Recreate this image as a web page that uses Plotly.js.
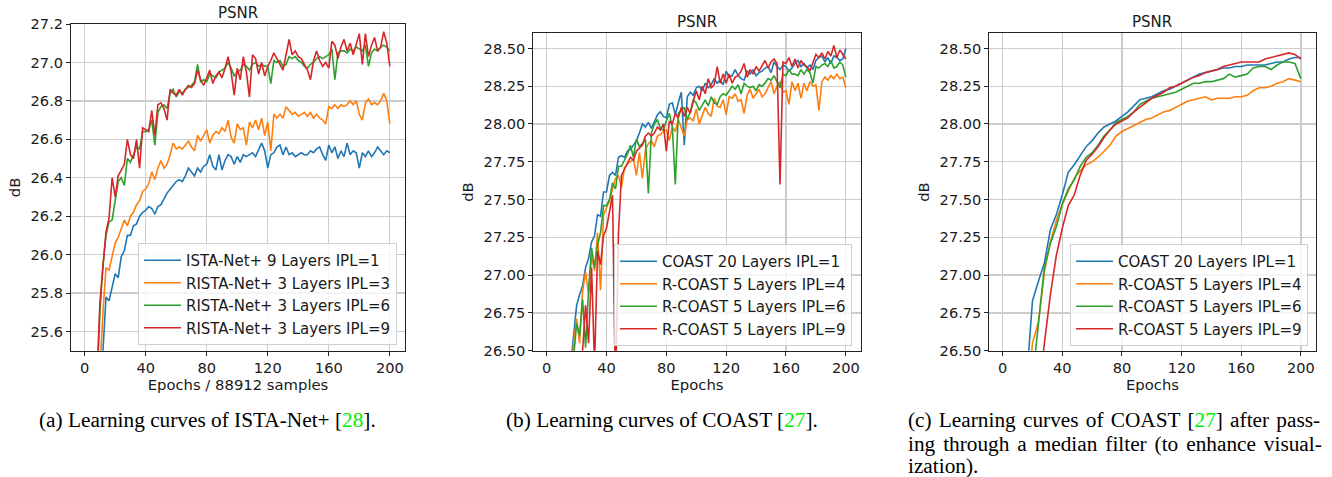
<!DOCTYPE html>
<html><head><meta charset="utf-8">
<script src="https://cdn.plot.ly/plotly-3.0.1.min.js"></script>
<style>html,body{margin:0;padding:0;background:#fff}#chart{width:1332px;height:477px}</style>
</head><body><div id="chart"></div>
<script>
// ---------- data ----------
const epochsAB = [2,4,6,8,10,12,14,16,18,20,22,24,26,28,30,32,34,36,38,40,42,44,46,48,50,52,54,56,58,60,62,64,66,68,70,72,74,76,78,80,82,84,86,88,90,92,94,96,98,100,102,104,106,108,110,112,114,116,118,120,122,124,126,128,130,132,134,136,138,140,142,144,146,148,150,152,154,156,158,160,162,164,166,168,170,172,174,176,178,180,182,184,186,188,190,192,194,196,198,200];
const epochsC = [4,8,12,16,20,24,28,32,36,40,44,48,52,56,60,64,68,72,76,80,84,88,92,96,100,104,108,112,116,120,124,128,132,136,140,144,148,152,156,160,164,168,172,176,180,184,188,192,196,200];

// (a) ISTA-Net+
const istaL9 = [23.0,23.6,24.2,24.8,25.2,25.50,25.78,25.76,25.84,25.90,25.88,25.99,26.02,26.10,26.10,26.15,26.16,26.20,26.22,26.23,26.25,26.24,26.21,26.25,26.26,26.29,26.32,26.34,26.36,26.38,26.39,26.38,26.41,26.45,26.43,26.41,26.45,26.43,26.46,26.47,26.52,26.46,26.44,26.52,26.44,26.49,26.52,26.51,26.47,26.51,26.48,26.52,26.51,26.52,26.53,26.51,26.55,26.58,26.54,26.45,26.52,26.53,26.56,26.57,26.52,26.56,26.52,26.53,26.51,26.52,26.53,26.52,26.52,26.54,26.53,26.55,26.56,26.52,26.49,26.57,26.53,26.56,26.50,26.54,26.51,26.58,26.52,26.54,26.53,26.45,26.53,26.51,26.54,26.51,26.53,26.56,26.54,26.52,26.54,26.53];
const ristaIPL3 = [23.2,23.8,24.4,24.9,25.4,25.70,25.93,25.92,26.00,26.06,26.09,26.14,26.18,26.15,26.20,26.22,26.26,26.28,26.33,26.34,26.37,26.43,26.39,26.45,26.49,26.45,26.47,26.52,26.58,26.55,26.56,26.55,26.57,26.59,26.56,26.54,26.62,26.59,26.62,26.65,26.58,26.62,26.64,26.63,26.66,26.64,26.70,26.61,26.58,26.68,26.65,26.66,26.57,26.69,26.66,26.70,26.65,26.71,26.62,26.69,26.54,26.73,26.71,26.73,26.71,26.77,26.75,26.73,26.74,26.72,26.73,26.74,26.72,26.74,26.71,26.73,26.71,26.70,26.68,26.77,26.76,26.78,26.76,26.78,26.77,26.78,26.80,26.78,26.80,26.73,26.70,26.79,26.81,26.78,26.79,26.78,26.80,26.84,26.80,26.68];
const ristaIPL6 = [23.4,24.1,24.6,25.3,25.7,25.95,26.10,26.17,26.18,26.28,26.38,26.40,26.36,26.50,26.48,26.52,26.56,26.55,26.64,26.64,26.65,26.70,26.57,26.74,26.77,26.78,26.76,26.84,26.86,26.82,26.85,26.84,26.86,26.87,26.88,26.90,26.99,26.90,26.91,26.90,26.94,26.93,26.92,26.95,26.96,26.97,27.00,26.97,26.93,26.95,26.96,26.99,26.98,26.96,26.99,27.00,26.98,26.99,26.98,26.98,26.89,27.01,27.00,27.01,26.98,26.99,27.03,27.02,27.03,27.01,27.00,26.98,26.97,26.99,27.00,27.02,27.03,27.02,27.03,27.04,27.07,26.91,27.05,27.06,27.06,27.05,27.07,27.06,27.08,27.07,27.06,27.09,26.98,27.05,27.07,27.06,27.08,27.09,27.08,27.06];
const ristaIPL9 = [23.5,24.2,24.7,25.35,25.75,25.95,26.12,26.19,26.40,26.30,26.41,26.44,26.47,26.60,26.52,26.50,26.60,26.45,26.66,26.65,26.64,26.75,26.62,26.78,26.79,26.76,26.70,26.86,26.84,26.83,26.86,26.83,26.86,26.88,26.87,26.89,26.96,26.91,26.88,26.92,26.96,26.89,26.93,26.95,26.92,26.97,27.03,26.95,26.83,26.97,26.91,27.03,26.95,26.82,27.04,27.02,26.94,27.00,26.93,26.98,27.01,27.05,27.02,26.99,26.96,27.04,27.12,27.04,27.06,27.03,27.02,26.99,26.96,26.91,27.01,27.06,27.01,26.98,27.00,26.97,27.11,27.09,27.02,27.08,27.12,27.06,27.10,27.04,27.10,27.15,26.99,27.15,27.03,27.09,27.13,27.06,27.08,27.16,27.10,26.98];

// (b) COAST
const coastL20 = [24.5,25.0,25.3,25.6,25.8,26.0,26.2,26.4,26.62,26.80,26.87,26.93,27.05,27.11,27.22,27.26,27.40,27.39,27.55,27.55,27.66,27.68,27.66,27.78,27.79,27.78,27.82,27.83,27.86,27.89,27.94,28.00,27.98,28.01,27.97,28.02,28.06,28.08,28.05,28.04,28.13,28.14,28.06,28.14,28.21,27.86,28.18,28.21,28.19,28.24,28.25,28.22,28.27,28.24,28.26,28.30,28.27,28.29,28.26,28.35,28.31,28.32,28.36,28.32,28.30,28.29,28.35,28.33,28.36,28.32,28.34,28.35,28.37,28.38,28.34,28.41,28.38,28.36,28.39,28.38,28.35,28.37,28.40,28.42,28.38,28.40,28.37,28.39,28.36,28.42,28.44,28.45,28.41,28.44,28.40,28.45,28.44,28.42,28.43,28.50];
const rcoastIPL4 = [24.3,24.8,25.2,25.5,25.7,25.9,26.1,26.3,26.55,26.71,26.55,26.89,27.02,26.88,27.12,27.03,27.28,26.90,27.40,27.45,27.49,27.57,27.64,27.66,27.58,27.71,27.74,27.75,27.77,27.66,27.81,27.64,27.83,27.87,27.89,27.85,27.92,27.93,27.95,27.96,27.89,27.98,27.95,28.03,27.98,27.92,28.03,28.04,28.02,28.10,28.00,28.05,28.11,28.07,28.05,28.17,28.12,28.11,28.16,28.06,28.18,28.17,28.20,28.15,28.16,28.07,28.19,28.23,28.17,28.20,28.23,28.18,28.20,28.24,28.28,28.20,28.25,28.28,28.21,28.22,28.13,28.28,28.22,28.27,28.17,28.27,28.22,28.28,28.25,28.26,28.09,28.28,28.31,28.29,28.32,28.30,28.33,28.30,28.31,28.24];
const rcoastIPL6 = [24.2,24.7,25.1,25.4,25.6,25.8,26.0,26.2,26.45,26.68,26.60,26.84,26.52,26.90,27.18,27.05,27.20,27.28,27.46,27.46,27.50,27.61,27.57,27.72,27.72,27.76,27.80,27.86,27.78,27.90,27.85,27.87,27.90,27.54,27.94,28.00,28.03,27.97,27.96,28.02,28.07,27.98,27.60,28.07,28.09,28.11,28.03,28.08,28.16,28.14,28.09,28.13,28.16,28.12,28.18,28.14,28.13,28.18,28.20,28.19,28.22,28.25,28.23,28.26,28.20,28.27,28.25,28.24,28.25,28.22,28.26,28.25,28.27,28.30,28.29,28.32,28.28,28.24,28.33,28.32,28.36,28.33,28.33,28.32,28.36,28.33,28.36,28.34,28.27,28.38,28.37,28.39,28.40,28.38,28.42,28.37,28.38,28.41,28.39,28.31];
const rcoastIPL9 = [23.8,24.3,24.7,25.0,25.3,25.5,25.7,25.9,26.1,26.2,26.35,26.50,26.80,26.55,27.05,26.40,27.16,27.07,27.26,27.31,27.42,27.53,26.20,27.28,27.66,27.70,27.74,27.78,27.76,27.82,27.84,27.86,27.92,27.94,27.92,27.94,27.98,27.96,28.00,27.82,28.02,28.00,28.07,28.04,28.11,28.05,28.11,28.07,28.15,28.22,28.16,28.25,28.20,28.30,28.24,28.26,28.38,28.27,28.33,28.27,28.33,28.27,28.31,28.32,28.35,28.40,28.31,28.36,28.33,28.38,28.35,28.39,28.42,28.37,28.41,28.43,28.40,27.60,28.41,28.40,28.44,28.38,28.43,28.37,28.42,28.39,28.38,28.35,28.41,28.46,28.44,28.47,28.43,28.48,28.45,28.52,28.44,28.49,28.46,28.43];

// (c) COAST, median filtered
const coastL20Med = [25.2,25.6,25.9,26.30,26.83,26.96,27.08,27.30,27.40,27.53,27.68,27.73,27.79,27.85,27.89,27.94,27.98,28.00,28.02,28.05,28.08,28.12,28.16,28.17,28.18,28.20,28.22,28.23,28.25,28.27,28.29,28.31,28.33,28.34,28.35,28.36,28.37,28.37,28.38,28.38,28.39,28.39,28.39,28.39,28.40,28.41,28.41,28.43,28.44,28.44];
const rcoastIPL4Med = [25.1,25.5,25.8,26.1,26.55,26.69,27.02,27.22,27.36,27.47,27.55,27.64,27.69,27.73,27.75,27.78,27.82,27.86,27.92,27.95,27.97,27.99,28.01,28.03,28.04,28.06,28.08,28.09,28.11,28.13,28.15,28.16,28.17,28.18,28.16,28.17,28.17,28.17,28.18,28.18,28.19,28.22,28.24,28.24,28.25,28.27,28.28,28.30,28.29,28.28];
const rcoastIPL6Med = [25.0,25.4,25.7,26.0,26.3,26.68,27.05,27.21,27.32,27.47,27.57,27.63,27.72,27.78,27.81,27.86,27.92,27.96,28.01,28.03,28.05,28.08,28.13,28.15,28.17,28.18,28.19,28.20,28.21,28.23,28.25,28.27,28.27,28.28,28.28,28.29,28.30,28.33,28.31,28.32,28.33,28.37,28.38,28.38,28.36,28.39,28.41,28.41,28.40,28.30];
const rcoastIPL9Med = [24.8,25.2,25.5,25.8,26.0,26.2,26.55,26.87,27.13,27.31,27.46,27.53,27.66,27.76,27.80,27.85,27.91,27.96,28.00,28.02,28.04,28.08,28.11,28.14,28.17,28.19,28.21,28.24,28.25,28.27,28.29,28.31,28.32,28.34,28.35,28.36,28.38,28.39,28.40,28.41,28.41,28.41,28.41,28.43,28.44,28.45,28.46,28.47,28.46,28.43];

const namesA = ['ISTA-Net+ 9 Layers IPL=1','RISTA-Net+ 3 Layers IPL=3','RISTA-Net+ 3 Layers IPL=6','RISTA-Net+ 3 Layers IPL=9'];
const namesBC = ['COAST 20 Layers IPL=1','R-COAST 5 Layers IPL=4','R-COAST 5 Layers IPL=6','R-COAST 5 Layers IPL=9'];
const colors = ['#1f77b4','#ff7f0e','#2ca02c','#d62728'];
const captionA = '(a) Learning curves of ISTA-Net+ [<span style="color:#00ee00">28</span>].';
const captionB = '(b) Learning curves of COAST [<span style="color:#00ee00">27</span>].';
const captionC = ['<span style="word-spacing:1.9px">(c) Learning curves of COAST [<span style="color:#00ee00">27</span>] after pass-</span>',
                  '<span style="word-spacing:2.6px">ing through a median filter (to enhance visual-</span>',
                  'ization).'];

// ---------- traces ----------
const traces = [];
function add(xs, ys, name, color, ax, leg, grp) {
  traces.push({x: xs, y: ys, name: name, type: 'scatter', mode: 'lines',
    line: {color: color, width: 1.6}, xaxis: 'x' + ax, yaxis: 'y' + ax,
    legend: leg, legendgroup: grp, hoverinfo: 'skip'});
}
[istaL9, ristaIPL3, ristaIPL6, ristaIPL9].forEach((s,i)=>add(epochsAB, s, namesA[i], colors[i], '', 'legend', 'a'+i));
[coastL20, rcoastIPL4, rcoastIPL6, rcoastIPL9].forEach((s,i)=>add(epochsAB, s, namesBC[i], colors[i], '2', 'legend2', 'b'+i));
[coastL20Med, rcoastIPL4Med, rcoastIPL6Med, rcoastIPL9Med].forEach((s,i)=>add(epochsC, s, namesBC[i], colors[i], '3', 'legend3', 'c'+i));

// ---------- layout ----------
const W = 1332, H = 477;
const F = 'DejaVu Sans, sans-serif';
const TXT = '#1a1a1a';
const tickFont = {family: F, size: 14.6, color: TXT};
function xax(x0, x1, anchor, title) {
  return {domain: [x0/W, x1/W], anchor: anchor, range: [-8.95, 209.95],
    tickvals: [0,40,80,120,160,200], ticks: 'outside', ticklen: 4, tickwidth: 1, tickcolor: '#222',
    showline: true, linecolor: '#222', linewidth: 1, mirror: true,
    showgrid: true, gridcolor: '#cdcdcd', gridwidth: 1.3, zeroline: false,
    tickfont: tickFont, title: {text: title, font: {family: F, size: 14.8, color: TXT}, standoff: 3},
    automargin: false};
}
function yax(y0, y1, anchor, range, dtick, fmt) {
  return {domain: [1 - y1/H, 1 - y0/H], anchor: anchor, range: range, dtick: dtick, tick0: 0,
    tickformat: fmt, ticks: 'outside', ticklen: 4, tickwidth: 1, tickcolor: '#222',
    showline: true, linecolor: '#222', linewidth: 1, mirror: true,
    showgrid: true, gridcolor: '#cdcdcd', gridwidth: 1.3, zeroline: false,
    tickfont: tickFont, title: {text: 'dB', font: {family: F, size: 14.8, color: TXT}, standoff: 6},
    automargin: false};
}
function leg(xr, yb) {
  return {x: xr/W, xanchor: 'right', y: 1 - yb/H, yanchor: 'bottom',
    bgcolor: 'rgba(255,255,255,0.8)', bordercolor: '#d0d0d0', borderwidth: 1,
    font: {family: F, size: 15, color: TXT}, traceorder: 'grouped', tracegroupgap: 0,
    itemwidth: 37};
}
const capFont = {family: 'Liberation Serif, Times New Roman, serif', size: 21.3, color: '#000'};
function ann(text, x, y, xanchor, font) {
  return {text: text, x: x/W, y: 1 - y/H, xref: 'paper', yref: 'paper', xanchor: xanchor,
    yanchor: 'middle', align: xanchor === 'left' ? 'left' : 'center', showarrow: false, font: font};
}
const titleFont = {family: F, size: 15, color: TXT};
const layout = {
  width: W, height: H, margin: {l: 0, r: 0, t: 0, b: 0},
  paper_bgcolor: '#fff', plot_bgcolor: '#fff', showlegend: true,
  xaxis: xax(71, 405, 'y', 'Epochs / 88912 samples'),
  yaxis: yax(24, 350.7, 'x', [25.5, 27.2], 0.2, '.1f'),
  xaxis2: xax(533.3, 860.7, 'y2', 'Epochs'),
  yaxis2: yax(33.3, 350.7, 'x2', [26.5, 28.6], 0.25, '.2f'),
  xaxis3: xax(989.3, 1315.7, 'y3', 'Epochs'),
  yaxis3: yax(33.3, 350.7, 'x3', [26.5, 28.6], 0.25, '.2f'),
  legend: leg(397, 345), legend2: leg(852, 346), legend3: leg(1308, 346),
  annotations: [
    ann('PSNR', 238, 13, 'center', titleFont),
    ann('PSNR', 697, 22, 'center', titleFont),
    ann('PSNR', 1152, 22, 'center', titleFont),
    ann(captionA, 207.5, 420, 'center', capFont),
    ann(captionB, 662, 420, 'center', capFont),
    ann(captionC[0], 906, 420, 'left', capFont),
    ann(captionC[1], 906, 444, 'left', capFont),
    ann(captionC[2], 906, 466, 'left', capFont)
  ]
};
Plotly.newPlot('chart', traces, layout, {displayModeBar: false, staticPlot: true});
</script></body></html>
